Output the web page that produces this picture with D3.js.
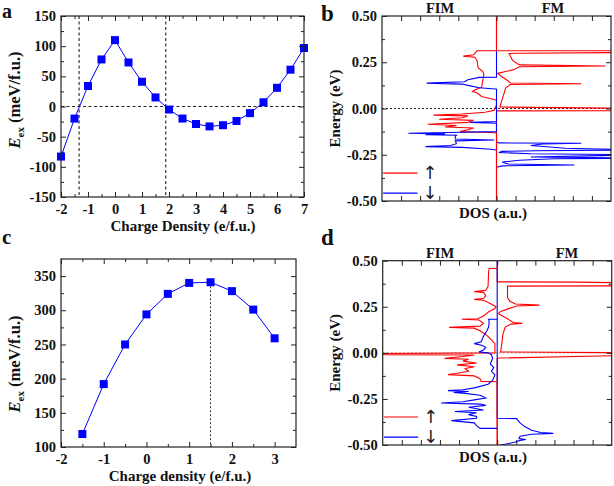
<!DOCTYPE html>
<html>
<head>
<meta charset="utf-8">
<script src="https://cdn.jsdelivr.net/npm/d3@7"></script>
<style>
body { margin: 0; background: #fff; }
svg { display: block; }
</style>
</head>
<body>
<svg id="fig" width="614" height="486"></svg>
<script>
// ---- panel a : exchange energy vs charge density ----
let chargeA = [-2, -1.5, -1, -0.5, 0, 0.5, 1, 1.5, 2, 2.5, 3, 3.5, 4, 4.5, 5, 5.5, 6, 6.5, 7];
let eexA = [-83, -20, 34, 78, 110, 73, 41, 15, -5, -20, -29, -33, -31, -24, -11, 7, 31, 61, 97];
let crossA = [-1.33, 1.88];
let xTicksA = [-2, -1, 0, 1, 2, 3, 4, 5, 6, 7];
let yTicksA = [-150, -100, -50, 0, 50, 100, 150];

// ---- panel c ----
let chargeC = [-1.5, -1, -0.5, 0, 0.5, 1, 1.5, 2, 2.5, 3];
let eexC = [119, 192, 250, 294, 324, 340, 341, 328, 301, 259];
let peakC = 1.5;
let xTicksC = [-2, -1, 0, 1, 2, 3];
let yTicksC = [100, 150, 200, 250, 300, 350];

// ---- DOS panels: [energy (eV), DOS (a.u.)], FIM drawn to the left, FM to the right ----
let eTicks = [-0.5, -0.25, 0, 0.25, 0.5];

let fimUpB = [[0.5,0],[0.312,0],[0.312,0.17],[0.29,0.2],[0.283,0.29],[0.277,0.19],[0.26,0.17],[0.22,0.16],[0.2,0.12],[0.185,0.11],[0.15,0.12],[0.115,0.13],[0.1,0.19],[0.092,0.21],[0.085,0.17],[0.065,0.13],[0.05,0.03],[0.045,0],[0.02,0],[-0.01,0.02],[-0.02,0.1],[-0.03,0.3],[-0.036,0.55],[-0.04,0.25],[-0.05,0.3],[-0.058,0.5],[-0.064,0.2],[-0.075,0.25],[-0.085,0.6],[-0.092,0.35],[-0.1,0.45],[-0.105,0.2],[-0.115,0.25],[-0.125,0.32],[-0.13,0.05],[-0.132,0],[-0.5,0]];
let fimDnB = [[0.31,0],[0.169,0],[0.168,0.15],[0.155,0.25],[0.145,0.28],[0.137,0.61],[0.132,0.3],[0.125,0.25],[0.112,0.15],[0.105,0.01],[0.104,0],[-0.07,0],[-0.075,0.23],[-0.08,0],[-0.125,0],[-0.128,0.3],[-0.134,0.77],[-0.137,0.45],[-0.141,0.62],[-0.145,0.35],[-0.15,0.36],[-0.165,0.36],[-0.17,0.02],[-0.175,0.36],[-0.19,0.35],[-0.2,0.4],[-0.206,0.62],[-0.21,0.3],[-0.22,0.05],[-0.224,0]];
let fmUpB = [[0.5,0],[0.312,0],[0.312,1.3],[0.303,1.3],[0.299,0.2],[0.297,0.11],[0.26,0.14],[0.236,0.2],[0.23,0.95],[0.226,0.2],[0.21,0.15],[0.19,0.01],[0.17,0.05],[0.15,0.1],[0.138,0.12],[0.134,0.74],[0.13,0.12],[0.11,0.08],[0.07,0.06],[0.03,0.04],[0.008,0.03],[0,1.3],[-0.012,1.3],[-0.013,0],[-0.5,0]];
let fmDnB = [[-0.18,0],[-0.186,0.02],[-0.188,0.74],[-0.192,0.4],[-0.2,0.3],[-0.215,0.6],[-0.224,1.3],[-0.228,0.35],[-0.232,0.05],[-0.238,0.02],[-0.245,0.3],[-0.25,1.3],[-0.256,0.8],[-0.262,0.3],[-0.268,1.3],[-0.272,0.5],[-0.28,0.2],[-0.29,0.05],[-0.3,0.1],[-0.305,0.68],[-0.31,0.05],[-0.318,0]];

let fimUpD = [[0.458,0],[0.458,0.07],[0.44,0.075],[0.36,0.08],[0.34,0.1],[0.332,0.2],[0.328,0.12],[0.31,0.1],[0.295,0.12],[0.29,0.2],[0.285,0.12],[0.27,0.07],[0.25,0.01],[0.24,0.02],[0.225,0.07],[0.2,0.12],[0.185,0.17],[0.182,0.31],[0.178,0.16],[0.16,0.12],[0.145,0.15],[0.138,0.42],[0.134,0.2],[0.12,0.15],[0.1,0.1],[0.07,0.05],[0.05,0.02],[0,0.02],[-0.005,1.3],[-0.01,1.3],[-0.012,0.2],[-0.02,0.3],[-0.03,0.46],[-0.035,0.25],[-0.045,0.3],[-0.055,0.18],[-0.065,0.35],[-0.075,0.2],[-0.085,0.28],[-0.1,0.25],[-0.112,0.36],[-0.118,0.43],[-0.125,0.2],[-0.14,0.15],[-0.155,0.14],[-0.157,0],[-0.5,0]];
let fimDnD = [[0.182,0],[0.182,0.075],[0.17,0.07],[0.14,0.075],[0.12,0.09],[0.09,0.12],[0.06,0.14],[0.05,0.2],[0.04,0.13],[0.03,0.1],[0.015,0.12],[0.005,0.16],[0,0.08],[-0.01,0.05],[-0.03,0.04],[-0.06,0.06],[-0.08,0.03],[-0.1,0.05],[-0.12,0.02],[-0.15,0.04],[-0.17,0.08],[-0.19,0.2],[-0.2,0.3],[-0.205,0.43],[-0.21,0.25],[-0.215,0.38],[-0.22,0.28],[-0.23,0.15],[-0.245,0.1],[-0.255,0.2],[-0.265,0.3],[-0.272,0.49],[-0.278,0.15],[-0.285,0.1],[-0.295,0.25],[-0.31,0.12],[-0.318,0.37],[-0.325,0.18],[-0.335,0.25],[-0.345,0.18],[-0.355,0.18],[-0.368,0.4],[-0.38,0.2],[-0.395,0.18],[-0.41,0.15],[-0.41,0]];
let fmUpD = [[0.5,0],[0.385,0],[0.384,0.69],[0.378,1.3],[0.364,1.3],[0.362,0.09],[0.35,0.09],[0.3,0.09],[0.28,0.11],[0.265,0.16],[0.259,0.37],[0.254,0.17],[0.24,0.1],[0.225,0.03],[0.214,0.01],[0.205,0.03],[0.185,0.09],[0.165,0.14],[0.16,0.22],[0.156,0.12],[0.14,0.07],[0.1,0.05],[0.05,0.04],[0.005,0.03],[0,1.3],[-0.012,1.3],[-0.028,0.02],[-0.03,0],[-0.5,0]];
let fmDnD = [[0.5,0],[-0.355,0],[-0.357,0.17],[-0.365,0.18],[-0.38,0.2],[-0.4,0.24],[-0.42,0.3],[-0.432,0.38],[-0.437,0.49],[-0.442,0.3],[-0.452,0.2],[-0.465,0.19],[-0.47,0.25],[-0.475,0.2],[-0.485,0.15],[-0.495,0.08],[-0.5,0.03]];

let FONT = '"Liberation Serif", "Times New Roman", serif';
let RED = '#ff0000', BLUE = '#0000ff';

let svg = d3.select('#fig');
svg.append('rect').attr('width', 614).attr('height', 486).attr('fill', '#fff');

function txt(x, y, s, size, anchor) {
    return svg.append('text')
        .attr('x', x).attr('y', y)
        .attr('font-family', FONT).attr('font-weight', 'bold')
        .attr('font-size', size).attr('text-anchor', anchor || 'start')
        .attr('fill', '#111').text(s);
}

// axes box with inward ticks on all four sides
function frame(x, y, xMaj, xMin, yMaj, yMin, xFmt, yFmt, xPad) {
    let g = svg.append('g');
    let [xl, xr] = x.range();
    let [yb, yt] = y.range();
    let put = (axis, tx, ty, vals, size, fmt, pad) => {
        g.append('g').attr('transform', `translate(${tx},${ty})`)
            .call(axis.tickValues(vals).tickSizeInner(size).tickSizeOuter(0)
                .tickPadding(pad || 3).tickFormat(fmt || (() => '')))
            .call(s => s.select('.domain').remove());
    };
    put(d3.axisBottom(x), 0, yb, xMaj, -5, xFmt, xPad);
    put(d3.axisBottom(x), 0, yb, xMin, -3);
    put(d3.axisTop(x), 0, yt, xMaj, -5);
    put(d3.axisTop(x), 0, yt, xMin, -3);
    put(d3.axisLeft(y), xl, 0, yMaj, -5, yFmt, 5);
    put(d3.axisLeft(y), xl, 0, yMin, -3);
    put(d3.axisRight(y), xr, 0, yMaj, -5);
    put(d3.axisRight(y), xr, 0, yMin, -3);
    g.selectAll('.tick line').attr('stroke', '#222');
    g.selectAll('text').attr('font-family', FONT).attr('font-weight', 'bold')
        .attr('font-size', 14.5).attr('fill', '#111');
    g.append('rect').attr('x', xl).attr('y', yt)
        .attr('width', xr - xl).attr('height', yb - yt)
        .attr('fill', 'none').attr('stroke', '#222').attr('stroke-width', 1.2);
}

function eexTitle(x, y) {
    let t = svg.append('text')
        .attr('transform', `translate(${x},${y}) rotate(-90)`)
        .attr('text-anchor', 'middle')
        .attr('font-family', FONT).attr('font-weight', 'bold')
        .attr('font-size', 16.5).attr('fill', '#111');
    t.append('tspan').attr('font-style', 'italic').text('E');
    t.append('tspan').attr('font-size', 11).attr('dy', 4).text('ex');
    t.append('tspan').attr('dy', -4).text(' (meV/f.u.)');
}

function scatterPanel(x, y, xs, ys) {
    let pts = xs.map((d, i) => [d, ys[i]]);
    svg.append('path').datum(pts)
        .attr('d', d3.line().x(d => x(d[0])).y(d => y(d[1])))
        .attr('fill', 'none').attr('stroke', BLUE).attr('stroke-width', 1);
    svg.selectAll(null).data(pts).enter().append('rect')
        .attr('x', d => x(d[0]) - 4).attr('y', d => y(d[1]) - 4)
        .attr('width', 8).attr('height', 8).attr('fill', BLUE);
}

let minorOf = (major, step) => major.slice(0, -1).map(v => v + step);

// ================= panel a =================
let xA = d3.scaleLinear().domain([-2, 7]).range([61, 304]);
let yA = d3.scaleLinear().domain([-150, 150]).range([197, 16]);
svg.append('line').attr('x1', xA(-2)).attr('x2', xA(7)).attr('y1', yA(0)).attr('y2', yA(0))
    .attr('stroke', '#222').attr('stroke-dasharray', '3,2.5').attr('stroke-width', 1.1);
svg.selectAll(null).data(crossA).enter().append('line')
    .attr('x1', d => xA(d)).attr('x2', d => xA(d)).attr('y1', yA(150)).attr('y2', yA(-150))
    .attr('stroke', '#222').attr('stroke-dasharray', '3,2.5').attr('stroke-width', 1.1);
scatterPanel(xA, yA, chargeA, eexA);
frame(xA, yA, xTicksA, minorOf(xTicksA, 0.5), yTicksA, minorOf(yTicksA, 25),
    d => String(d), d => String(d), 7);
eexTitle(20, 100);
txt(183, 231, 'Charge Density (e/f.u.)', 15, 'middle');
txt(2, 18, 'a', 20);

// ================= panel c =================
let xC = d3.scaleLinear().domain([-2, 3.5]).range([61, 296]);
let yC = d3.scaleLinear().domain([100, 375]).range([447, 259]);
svg.append('line').attr('x1', xC(peakC)).attr('x2', xC(peakC))
    .attr('y1', yC(eexC[chargeC.indexOf(peakC)])).attr('y2', yC(100))
    .attr('stroke', '#333').attr('stroke-dasharray', '2,2').attr('stroke-width', 1);
scatterPanel(xC, yC, chargeC, eexC);
frame(xC, yC, xTicksC, minorOf(xTicksC, 0.5), yTicksC, minorOf(yTicksC, 25),
    d => String(d), d => String(d), 7);
eexTitle(20, 364);
txt(180, 481, 'Charge density (e/f.u.)', 15, 'middle');
txt(2, 244, 'c', 21);

// ================= DOS panels =================
let dosTicks = d3.range(-5, 6).map(k => k / 6);

function dosPanel(id, top, bottom, left, right, curves, zeroColor, legY, label, labY, fmX) {
    let x = d3.scaleLinear().domain([-1, 1]).range([left, right]);
    let y = d3.scaleLinear().domain([-0.5, 0.5]).range([bottom, top]);
    svg.append('clipPath').attr('id', id)
        .append('rect').attr('x', left).attr('y', top)
        .attr('width', right - left).attr('height', bottom - top);
    let g = svg.append('g').attr('clip-path', `url(#${id})`);
    g.append('line').attr('x1', x(-1)).attr('x2', x(1)).attr('y1', y(0)).attr('y2', y(0))
        .attr('stroke', zeroColor).attr('stroke-dasharray', '2,2').attr('stroke-width', 1);
    curves.forEach(c => {
        g.append('path').datum(c.data)
            .attr('d', d3.line().x(d => x(c.side * d[1])).y(d => y(d[0])))
            .attr('fill', 'none').attr('stroke', c.color).attr('stroke-width', 1.1);
    });
    // spin legend
    [[legY[0], RED, '\u2191'], [legY[1], BLUE, '\u2193']].forEach(([e, col, arrow]) => {
        svg.append('line').attr('x1', x(-0.99)).attr('x2', x(-0.69)).attr('y1', y(e)).attr('y2', y(e))
            .attr('stroke', col).attr('stroke-width', 1.2);
        svg.append('text').attr('x', x(-0.58)).attr('y', y(e) + 6)
            .attr('text-anchor', 'middle').attr('font-family', '"DejaVu Sans"')
            .attr('font-size', 18).attr('fill', '#222').text(arrow);
    });
    frame(x, y, dosTicks, [], eTicks, minorOf(eTicks, 0.125), () => '', d => d.toFixed(2), 3);
    txt(440, top - 3, 'FIM', 14.5, 'middle');
    txt(fmX, top - 3, 'FM', 14.5, 'middle');
    txt(493, bottom + 17, 'DOS (a.u.)', 15, 'middle');
    svg.append('text').attr('transform', `translate(340,${(top + bottom) / 2}) rotate(-90)`)
        .attr('text-anchor', 'middle').attr('font-family', FONT).attr('font-weight', 'bold')
        .attr('font-size', 15).attr('fill', '#111').text('Energy (eV)');
    txt(321, labY, label, 23);
}

dosPanel('clipB', 16, 201, 382, 611, [
    { data: fmUpB, side: 1, color: RED },
    { data: fmDnB, side: 1, color: BLUE },
    { data: fimUpB, side: -1, color: RED },
    { data: fimDnB, side: -1, color: BLUE }
], '#222', [-0.349, -0.457], 'b', 21, 553);

dosPanel('clipD', 260.7, 445, 382.7, 611.7, [
    { data: fmUpD, side: 1, color: RED },
    { data: fmDnD, side: 1, color: BLUE },
    { data: fimUpD, side: -1, color: RED },
    { data: fimDnD, side: -1, color: BLUE }
], '#999', [-0.348, -0.457], 'd', 245, 567);
</script>
</body>
</html>
